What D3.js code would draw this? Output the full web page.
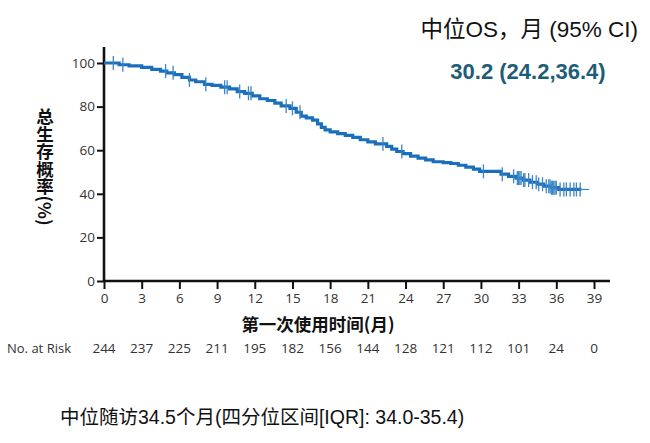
<!DOCTYPE html>
<html>
<head>
<meta charset="utf-8">
<script src="https://cdn.jsdelivr.net/npm/d3@7"></script>
<style>
  body { margin: 0; background: #fff; }
  svg { display: block; }
</style>
</head>
<body>
<div id="km"></div>
<script>
// step points of the OS curve (months, survival %)
let stepTimes = [0, 1.2, 2.0, 3.0, 3.8, 4.5, 5.0, 5.6, 6.2, 6.8, 7.3, 8.0, 8.6, 9.3, 10.0, 10.6, 11.2, 11.8,
    12.4, 13.0, 13.6, 14.1, 14.8, 15.3, 15.7, 16.1, 16.6, 17.0, 17.3, 17.6, 18.0, 18.6, 19.2, 19.8, 20.4,
    21.0, 21.6, 22.5, 22.9, 23.3, 23.8, 24.4, 25.0, 25.6, 26.2, 27.0, 27.6, 28.2, 28.8, 29.4, 29.9, 31.6,
    32.2, 32.8, 33.4, 33.9, 34.5, 35.0, 35.6, 36.2];
let stepSurv = [100, 99.2, 98.7, 98.0, 97.1, 96.3, 95.5, 94.7, 93.4, 92.2, 91.4, 90.2, 89.7, 88.9, 88.1, 86.9, 86.1, 84.9,
    83.6, 82.8, 81.6, 80.3, 79.2, 77.4, 75.6, 74.8, 73.8, 72.1, 70.5, 69.3, 68.4, 67.6, 66.8, 65.9, 64.8,
    63.8, 62.9, 61.8, 60.5, 59.4, 58.4, 57.3, 56.4, 55.6, 54.7, 54.3, 53.9, 53.1, 52.2, 51.3, 50.3, 49.0,
    48.0, 47.2, 46.3, 45.3, 44.4, 43.5, 42.8, 42.0];
let lastTime = 38.6;

// censored observations (months)
let censorTimes = [0.74, 1.5, 4.9, 5.5, 6.8, 8.1, 9.6, 9.8, 10.8, 11.5, 11.7, 14.5, 15.0, 15.6, 22.2, 23.7,
    30.2, 31.7, 32.6, 32.9, 33.0, 33.1, 33.2, 33.4, 33.5, 33.8, 34.1, 34.4, 34.6, 34.9, 35.2, 35.4, 35.5,
    35.6, 35.7, 35.8, 35.9, 36.0, 36.3, 36.6, 36.8, 37.1, 37.4, 37.6, 37.9];

let xTicks = [0, 3, 6, 9, 12, 15, 18, 21, 24, 27, 30, 33, 36, 39];
let yTicks = [0, 20, 40, 60, 80, 100];
let atRisk = [244, 237, 225, 211, 195, 182, 156, 144, 128, 121, 112, 101, 24, 0];

let W = 650, H = 443;

let svg = d3.select("#km")
    .append("svg")
    .attr("width", W)
    .attr("height", H);

let x = d3.scaleLinear()
    .domain([0, 39])
    .range([104, 594]);
let y = d3.scaleLinear()
    .domain([0, 100])
    .range([281, 63]);

let numFont = "'Open Sans', 'Liberation Sans', sans-serif";
let cjkFont = "'Noto Sans CJK SC', sans-serif";

// axes
let xAxis = svg.append("g")
    .attr("transform", `translate(0, ${y(0)})`)
    .call(d3.axisBottom(x).tickValues(xTicks).tickSize(8).tickPadding(4).tickSizeOuter(0));
xAxis.select(".domain").attr("d", `M${x(0)},0H610`);

let yAxis = svg.append("g")
    .attr("transform", `translate(${x(0)}, 0)`)
    .call(d3.axisLeft(y).tickValues(yTicks).tickSize(7).tickPadding(2).tickSizeOuter(0));
yAxis.select(".domain").attr("d", `M0,${y(0)}V47`);

svg.selectAll(".domain").attr("stroke", "#111").attr("stroke-width", 2.6);
svg.selectAll(".tick line").attr("stroke", "#111").attr("stroke-width", 2);
svg.selectAll(".tick text")
    .attr("fill", "#333")
    .style("font-family", numFont)
    .style("font-size", "13.5px");

// survival curve
let pts = stepTimes.map((t, i) => [t, stepSurv[i]]);
pts.push([38.0, stepSurv[stepSurv.length - 1]]);
let line = d3.line()
    .x(d => x(d[0]))
    .y(d => y(d[1]))
    .curve(d3.curveStepAfter);

svg.append("path")
    .attr("d", line([[38.0, stepSurv[stepSurv.length - 1]], [lastTime, stepSurv[stepSurv.length - 1]]]))
    .attr("stroke", "#3d86c6")
    .attr("stroke-width", 1.2)
    .attr("fill", "none");

svg.append("path")
    .attr("d", line(pts))
    .attr("stroke", "#1a6fba")
    .attr("stroke-width", 3.2)
    .attr("fill", "none");

// censor marks
let survAt = t => {
    let i = d3.bisectRight(stepTimes, t) - 1;
    return stepSurv[Math.max(0, i)];
};
svg.selectAll(".censor")
    .data(censorTimes)
    .enter()
    .append("line")
    .attr("class", "censor")
    .attr("x1", d => x(d))
    .attr("x2", d => x(d))
    .attr("y1", d => y(survAt(d)) - 7)
    .attr("y2", d => y(survAt(d)) + 7)
    .attr("stroke", "#3d86c6")
    .attr("stroke-width", 1.3);

// y label, vertical writing
svg.append("text")
    .attr("x", 45)
    .attr("y", 108)
    .style("writing-mode", "vertical-rl")
    .style("font-family", cjkFont)
    .style("font-weight", "bold")
    .style("font-size", "17.5px")
    .attr("fill", "#111")
    .text("总生存概率(%)");

// x label
svg.append("text")
    .attr("x", 318)
    .attr("y", 331)
    .attr("text-anchor", "middle")
    .style("font-family", cjkFont)
    .style("font-weight", "bold")
    .style("font-size", "17.5px")
    .attr("fill", "#111")
    .text("第一次使用时间(月)");

// number at risk
svg.append("text")
    .attr("x", 7)
    .attr("y", 353)
    .style("font-family", numFont)
    .style("font-size", "13px")
    .attr("fill", "#333")
    .text("No. at Risk");
svg.selectAll(".risk")
    .data(atRisk)
    .enter()
    .append("text")
    .attr("class", "risk")
    .attr("x", (d, i) => x(xTicks[i]))
    .attr("y", 353)
    .attr("text-anchor", "middle")
    .style("font-family", numFont)
    .style("font-size", "13.5px")
    .attr("fill", "#333")
    .text(d => d);

// median OS box
svg.append("text")
    .attr("x", 638)
    .attr("y", 37)
    .attr("text-anchor", "end")
    .style("font-family", "'Liberation Sans', " + cjkFont)
    .style("font-size", "22.5px")
    .attr("fill", "#111")
    .text("中位OS，月 (95% CI)");
svg.append("text")
    .attr("x", 528)
    .attr("y", 79)
    .attr("text-anchor", "middle")
    .style("font-family", "'Liberation Sans', sans-serif")
    .style("font-weight", "bold")
    .style("font-size", "22px")
    .attr("fill", "#1d5d79")
    .text("30.2 (24.2,36.4)");

// footnote
svg.append("text")
    .attr("x", 60)
    .attr("y", 424)
    .style("font-family", "'Liberation Sans', " + cjkFont)
    .style("font-size", "19.5px")
    .attr("fill", "#111")
    .text("中位随访34.5个月(四分位区间[IQR]: 34.0-35.4)");
</script>
</body>
</html>
